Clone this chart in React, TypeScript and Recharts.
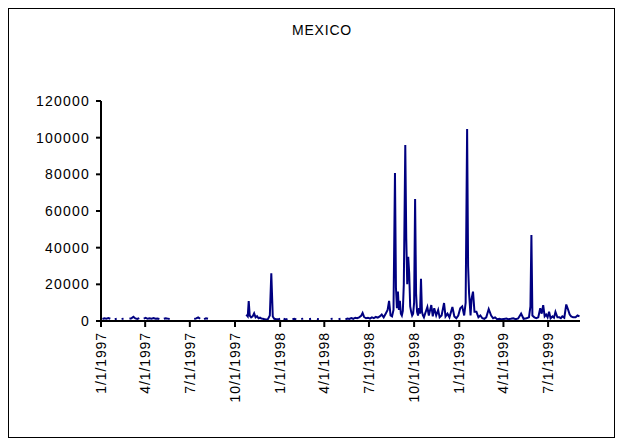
import { LineChart, Line, XAxis, YAxis } from 'recharts';

// days since 1/1/1997
const dayOffsets = [
  3, 7, 11, 15, 19, 23, 28, 32, 36, 42, 46, 50, 58, 62, 66, 70, 74, 78, 82, 87,
  91, 95, 99, 103, 107, 111, 115, 119, 123, 128, 132, 136, 140, 144, 190, 194, 198, 202, 206, 210,
  214, 218, 222, 296, 299, 301, 303, 306, 309, 312, 315, 318, 321, 324, 327, 330, 333, 336, 340, 344,
  347, 350, 353, 357, 361, 365, 369, 372, 376, 380, 384, 390, 394, 398, 402, 408, 412, 416, 424, 428,
  432, 440, 444, 448, 456, 460, 468, 472, 476, 484, 488, 492, 498, 502, 506, 510, 514, 518, 522, 526,
  530, 533, 536, 540, 544, 548, 552, 556, 560, 564, 568, 572, 576, 580, 584, 587, 590, 593, 596, 599,
  601, 603, 605, 607, 609, 611, 613, 615, 617, 620, 622, 624, 626, 628, 630, 632, 634, 636, 638, 640,
  642, 644, 646, 648, 650, 652, 654, 656, 658, 661, 665, 668, 673, 676, 679, 683, 687, 690, 694, 699,
  702, 706, 710, 716, 720, 724, 728, 732, 736, 740, 743, 746, 748, 750, 753, 755, 758, 761, 765, 769,
  773, 777, 781, 785, 790, 795, 799, 803, 807, 812, 816, 821, 826, 830, 835, 840, 845, 850, 856, 861,
  867, 872, 875, 877, 879, 883, 887, 891, 895, 898, 901, 904, 907, 910, 913, 916, 920, 923, 926, 930,
  934, 937, 940, 944, 948, 952, 955, 958, 962, 967, 971, 975,
];

const mexicoValues = [
  1100, 1500, 1300, 1600, 1200, null, 1000, 1200, null, 1100, 1300, null, 1200, 1500, 2300, 1400, 1100, 1600, null, 1300,
  1700, 1200, 1500, 1300, 1600, 1200, 1400, 1100, null, 1200, 1500, 1300, 1100, null, 1100, 1400, 2000, 1200, null, 1000,
  1500, 1200, null, 3500, 2500, 10900, 3000, 2000, 2500, 4200, 2000, 2600, 1500, 1800, 1300, 1200, 1000, 800, 1000, 3000,
  26000, 2500, 1200, 1000, 900, 1200, null, 1200, 800, 1100, null, 1000, 1200, 900, null, 1100, 1300, null, 1000, 1200,
  null, 1100, 900, null, 1000, null, 1100, 1300, null, 1000, 1200, null, 900, 1300, 1100, 1600, 1200, 1800, 1500, 2000,
  2800, 4400, 2200, 1500, 1800, 1300, 2000, 1600, 2200, 1800, 2500, 3500, 2000, 4000, 6000, 11000, 3000, 2500, 6000, 80700,
  18000, 7000, 16000, 6000, 11000, 4000, 3000, 5500, 20000, 96000, 45000, 20000, 35000, 26000, 8000, 5000, 3000, 4000, 10000, 66500,
  15000, 5000, 3000, 7000, 4000, 23000, 5000, 3000, 2000, 4500, 7600, 3000, 8700, 2500, 7000, 3000, 6000, 2000, 3000, 9800,
  2500, 4000, 2000, 7600, 2500, 1500, 3000, 7000, 8000, 3000, 10000, 104700, 30000, 15000, 3000, 12000, 16000, 5000, 5000, 2000,
  3000, 1500, 1200, 2000, 6500, 3000, 1500, 2000, 1000, 1200, 900, 1100, 1300, 1000, 1200, 1500, 1000, 1400, 4000, 1200,
  1500, 2000, 8000, 46900, 3000, 2000, 1500, 2000, 7000, 4000, 8700, 2500, 3500, 2000, 5000, 1500, 2500, 1800, 5000, 2000,
  2000, 1500, 2500, 1800, 9000, 6000, 3500, 2500, 2000, 2000, 3000, 2500,
];

const tickDays = [0, 90, 181, 273, 365, 455, 546, 638, 730, 820, 911];
const tickLabels = [
  '1/1/1997', '4/1/1997', '7/1/1997', '10/1/1997', '1/1/1998', '4/1/1998',
  '7/1/1998', '10/1/1998', '1/1/1999', '4/1/1999', '7/1/1999',
];
const yTicks = [0, 20000, 40000, 60000, 80000, 100000, 120000];

const data = dayOffsets.map((d, i) => ({ day: d, mexico: mexicoValues[i] }));

const font = 'Arial, "Liberation Sans", sans-serif';

function DateTick(props: any) {
  const { x, y, payload } = props;
  const label = tickLabels[tickDays.indexOf(payload.value)] ?? '';
  return (
    <text
      transform={`translate(${x},${y + 3}) rotate(-90)`}
      textAnchor="end"
      dy="0.36em"
      fontSize={14}
      fontFamily={font}
      letterSpacing={0.9}
      fill="#000"
    >
      {label}
    </text>
  );
}

export default function App() {
  return (
    <div
      style={{
        position: 'relative',
        width: 605,
        height: 428,
        border: '1px solid #000',
        background: '#fff',
        fontFamily: font,
      }}
    >
      <div
        style={{
          position: 'absolute',
          top: 13,
          left: 213,
          width: 200,
          textAlign: 'center',
          fontSize: 14,
          letterSpacing: 0.8,
        }}
      >
        MEXICO
      </div>
      <LineChart width={605} height={428} data={data} margin={{ top: 92, right: 34, bottom: 36, left: 0 }}>
        <XAxis
          dataKey="day"
          type="number"
          domain={[0, 976]}
          ticks={tickDays}
          interval={0}
          tick={<DateTick />}
          height={80}
          tickSize={6}
          axisLine={{ stroke: '#000', strokeWidth: 2 }}
          tickLine={{ stroke: '#000', strokeWidth: 2 }}
        />
        <YAxis
          type="number"
          domain={[0, 120000]}
          ticks={yTicks}
          interval={0}
          width={92}
          tickSize={5}
          tickMargin={6}
          axisLine={{ stroke: '#000', strokeWidth: 2 }}
          tickLine={{ stroke: '#000', strokeWidth: 2 }}
          tick={{ fill: '#000', fontSize: 14, fontFamily: font, letterSpacing: 1.2 }}
        />
        <Line
          type="linear"
          dataKey="mexico"
          stroke="#000080"
          strokeWidth={2}
          dot={false}
          isAnimationActive={false}
        />
      </LineChart>
    </div>
  );
}
